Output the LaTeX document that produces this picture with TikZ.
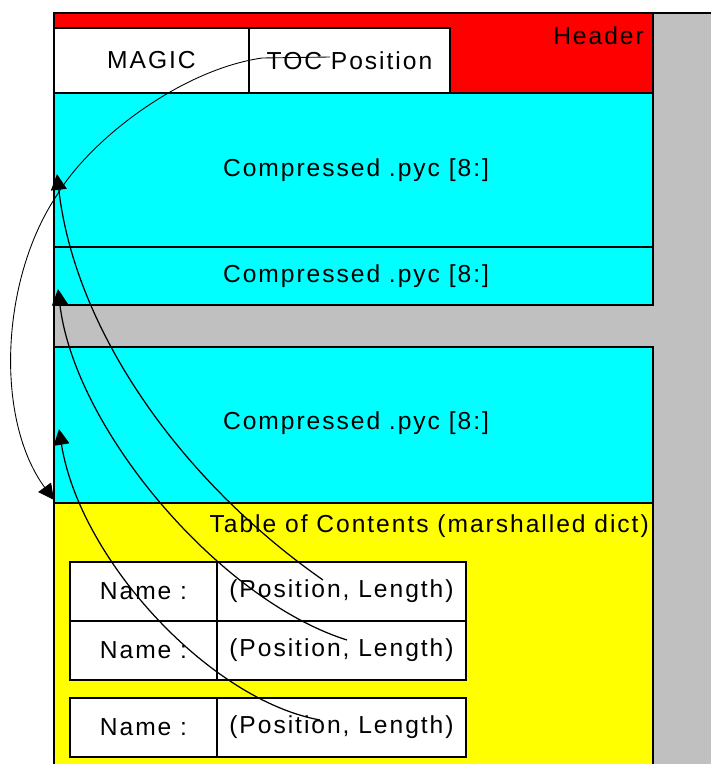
\documentclass[tikz,border=0pt]{standalone}
\usepackage{fontspec}
\setmainfont{Liberation Sans}[LetterSpace=8.0]
\usepackage{tikz}
\usetikzlibrary{arrows.meta}

\definecolor{hdrred}{RGB}{255,0,0}
\definecolor{pycyan}{RGB}{0,255,255}
\definecolor{tocyellow}{RGB}{255,255,0}
\definecolor{panelgrey}{RGB}{192,192,192}

\begin{document}
\begin{tikzpicture}[x=0.02cm,y=-0.02cm,font=\fontsize{14}{16}\selectfont]
      \tikzset{file block/.style={draw=black,
          line width=0.8pt,
          inner sep=0pt,
          outer sep=0pt,
          minimum width=11.98cm,
          anchor=north west,
          fill=#1},
        entry cell/.style={draw=black,
          line width=0.7pt,
          inner sep=0pt,
          outer sep=0pt,
          fill=white,
          minimum height=1.18cm},
        pointer/.style={line width=0.7pt,
          -{Triangle[length=9pt,width=9pt]}}
      }
      \useasboundingbox (0,0) rectangle (711,764);
      \fill [panelgrey] (54,13) rectangle (711,764);
      \draw [line width=1pt] (54,764)--(54,13)--(711,13);
      % archive blocks
      \node [file block=hdrred, minimum height=1.6cm] (header) at (54,13) {};
      \node [file block=pycyan, minimum height=3.08cm] (pyc1) at (54,93) {};
      \node [file block=pycyan, minimum height=1.16cm] (pyc2) at (54,247) {};
      \node [file block=pycyan, minimum height=3.12cm] (pyc3) at (54,347) {};
      \node [file block=tocyellow, minimum height=5.4cm] (toc) at (54,503) {};
      \node (pyc1text) at (356,170) {Compressed .pyc [8:]};
      \node (pyc2text) at (356,276) {Compressed .pyc [8:]};
      \node (pyc3text) at (356,423) {Compressed .pyc [8:]};
      \node [anchor=east] (hdrtext) at (650,36) {Header};
      \node [anchor=east] (toctext) at (655,526) {Table of Contents (marshalled dict)};
      \node [entry cell, anchor=north west, minimum width=3.9cm, minimum height=1.3cm] (magic) at (54,28) {MAGIC};
      \node [entry cell, anchor=north west, minimum width=4.02cm, minimum height=1.3cm] (tocpos) at (249,28) {TOC Position};
      % table of contents entries
      \node [entry cell, anchor=north west, minimum width=2.94cm] (name1) at (70,562) {Name :};
      \node [entry cell, anchor=north west, minimum width=4.98cm] (pos1) at (217,562) {(Position, Length)};
      \node [entry cell, anchor=north west, minimum width=2.94cm] (name2) at (70,621) {Name :};
      \node [entry cell, anchor=north west, minimum width=4.98cm] (pos2) at (217,621) {(Position, Length)};
      \node [entry cell, anchor=north west, minimum width=2.94cm] (name3) at (70,698) {Name :};
      \node [entry cell, anchor=north west, minimum width=4.98cm] (pos3) at (217,698) {(Position, Length)};
      % pointers
      \coordinate (tocptr) at (330,57);
      \coordinate (tocbend) at (262,58);
      \coordinate (tocside) at (57,195);
      \coordinate (tocstart) at (54,500);
      \coordinate (ptr1) at (323,580);
      \coordinate (ptr2) at (347,640);
      \coordinate (ptr3) at (320,720);
      \coordinate (pyc1in) at (57,174);
      \coordinate (pyc2in) at (58,289);
      \coordinate (pyc3in) at (59,429);
      \draw [line width=0.5pt, -{Triangle[length=9pt,width=9pt]}] (tocptr)--(tocbend)
        .. controls (180,70) and (90,140) .. (tocside)
        .. controls (0,280) and (-5,420) .. (tocstart);
      \draw [pointer] (ptr1) .. controls (180,480) and (75,330) .. (pyc1in);
      \draw [pointer] (ptr2) .. controls (220,600) and (75,430) .. (pyc2in);
      \draw [pointer] (ptr3) .. controls (210,700) and (80,560) .. (pyc3in);
    \end{tikzpicture}
\end{document}
